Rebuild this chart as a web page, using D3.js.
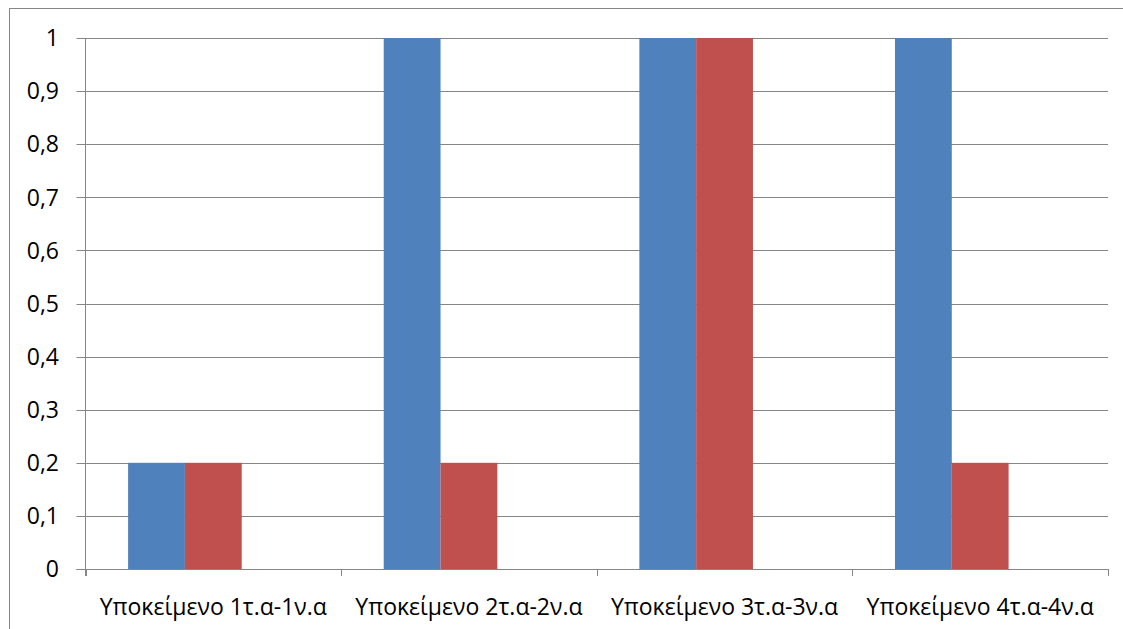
<!DOCTYPE html>
<html>
<head>
<meta charset="utf-8">
<script src="https://cdn.jsdelivr.net/npm/d3@7"></script>
<style>
  body { margin: 0; background: #fff; }
  svg { display: block; }
</style>
</head>
<body>
<svg id="chart" width="1123" height="629"></svg>
<script>
const categories = ["Υποκείμενο 1τ.α-1ν.α", "Υποκείμενο 2τ.α-2ν.α", "Υποκείμενο 3τ.α-3ν.α", "Υποκείμενο 4τ.α-4ν.α"];
const seriesNames = ["Σειρά 1", "Σειρά 2", "Σειρά 3"];
const series1 = [0.2, 1, 1, 1];
const series2 = [0.2, 0.2, 1, 0.2];
const series3 = [0, 0, 0, 0];
const yTicks = [0, 0.1, 0.2, 0.3, 0.4, 0.5, 0.6, 0.7, 0.8, 0.9, 1];
const colors = ["#4F81BD", "#C0504D", "#9BBB59"];

const svg = d3.select("#chart");
const font = "'Open Sans', 'DejaVu Sans', sans-serif";
const gridColor = "#868686";

// outer chart border (runs off right/bottom edge like the source)
svg.append("rect")
  .attr("x", 9.5).attr("y", 8.5)
  .attr("width", 1130).attr("height", 640)
  .attr("fill", "none").attr("stroke", gridColor).attr("stroke-width", 1);

const plotL = 85.5, plotR = 1108, plotT = 38, plotB = 569;

const y = d3.scaleLinear().domain([0, 1]).range([plotB, plotT]);
const x0 = d3.scaleBand().domain(categories).range([plotL, plotR]).paddingInner(0).paddingOuter(0);

// Excel clustered column: gap width 150%
const groupW = x0.bandwidth();
const barW = groupW / (seriesNames.length + 1.5);
const gap = barW * 0.75;

// gridlines
svg.append("g").selectAll("line").data(yTicks).join("line")
  .attr("x1", plotL - 9).attr("x2", plotR)
  .attr("y1", d => Math.round(y(d)) + 0.5).attr("y2", d => Math.round(y(d)) + 0.5)
  .attr("stroke", gridColor).attr("stroke-width", 1);

// bars
const allSeries = [series1, series2, series3];
allSeries.forEach((vals, si) => {
  svg.append("g").selectAll("rect").data(vals).join("rect")
    .attr("x", (d, i) => x0(categories[i]) + gap + si * barW)
    .attr("y", d => y(d))
    .attr("width", barW)
    .attr("height", d => y(0) - y(d))
    .attr("fill", colors[si]);
});

// y axis line
svg.append("line")
  .attr("x1", plotL).attr("x2", plotL).attr("y1", plotT).attr("y2", plotB + 7)
  .attr("stroke", gridColor).attr("stroke-width", 1);

// x axis line
svg.append("line")
  .attr("x1", plotL - 9).attr("x2", plotR).attr("y1", Math.round(y(0)) + 0.5).attr("y2", Math.round(y(0)) + 0.5)
  .attr("stroke", gridColor).attr("stroke-width", 1);

// x ticks at category boundaries
const bounds = categories.map(c => x0(c)).concat([plotR]);
svg.append("g").selectAll("line").data(bounds).join("line")
  .attr("x1", d => Math.round(d) + 0.5).attr("x2", d => Math.round(d) + 0.5)
  .attr("y1", plotB).attr("y2", plotB + 7)
  .attr("stroke", gridColor).attr("stroke-width", 1);

// y labels
const fmt = v => d3.format(".1~f")(v).replace(".", ",");
svg.append("g").selectAll("text").data(yTicks).join("text")
  .attr("x", 59).attr("y", d => y(d))
  .attr("dy", "0.36em")
  .attr("text-anchor", "end")
  .attr("font-family", font).attr("font-size", 23).attr("fill", "#000")
  .text(fmt);

// x labels
svg.append("g").selectAll("text").data(categories).join("text")
  .attr("x", d => x0(d) + groupW / 2).attr("y", 615)
  .attr("text-anchor", "middle")
  .attr("font-family", font).attr("font-size", 23).attr("fill", "#000")
  .text(d => d);
</script>
</body>
</html>
